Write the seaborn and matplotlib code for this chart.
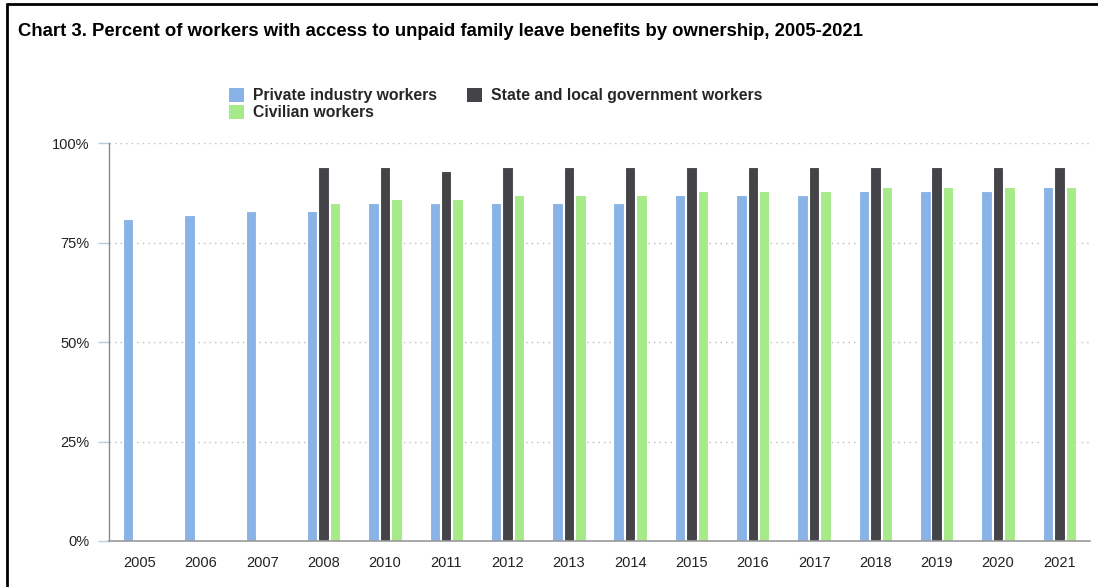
import numpy as np
import pandas as pd
import matplotlib
matplotlib.use("Agg")
import matplotlib.pyplot as plt
from matplotlib.lines import Line2D
import seaborn as sns

years = ["2005", "2006", "2007", "2008", "2010", "2011", "2012", "2013",
         "2014", "2015", "2016", "2017", "2018", "2019", "2020", "2021"]
private = [81, 82, 83, 83, 85, 85, 85, 85, 85, 87, 87, 87, 88, 88, 88, 89]
state_local = [np.nan, np.nan, np.nan, 94, 94, 93, 94, 94, 94, 94, 94, 94, 94, 94, 94, 94]
civilian = [np.nan, np.nan, np.nan, 85, 86, 86, 87, 87, 87, 88, 88, 88, 89, 89, 89, 89]

series_names = ["Private industry workers", "State and local government workers", "Civilian workers"]
colors = ["#89b3e6", "#434348", "#a6ea8a"]

df = pd.DataFrame({
    "year": years * 3,
    "series": np.repeat(series_names, len(years)),
    "value": private + state_local + civilian,
})

sns.set_theme(style="white")
plt.rcParams["font.family"] = ["Liberation Sans", "DejaVu Sans"]

W, H = 1098, 587
fig = plt.figure(figsize=(W / 100, H / 100), dpi=100)
fig.patch.set_facecolor("white")

ax = fig.add_axes([109 / W, 46 / H, (1090 - 109) / W, (541 - 143) / H])
sns.barplot(data=df, x="year", y="value", hue="series", order=years,
            hue_order=series_names, palette=colors, errorbar=None,
            width=0.56, gap=0.08, edgecolor="white", linewidth=0.8,
            saturation=1, ax=ax)

ax.set_ylim(0, 100)
ax.set_xlim(-0.5, len(years) - 0.5)
ax.set_yticks([0, 25, 50, 75, 100])
ax.set_yticklabels(["0%", "25%", "50%", "75%", "100%"])
ax.set_xlabel("")
ax.set_ylabel("")
ax.set_facecolor("white")

for y in [25, 50, 75, 100]:
    ax.axhline(y, color="#bbbbbb", linestyle=(0, (1, 3)), linewidth=1, zorder=0)

for side in ["top", "right"]:
    ax.spines[side].set_visible(False)
ax.spines["left"].set_color("#8a8a8a")
ax.spines["left"].set_linewidth(1)
ax.spines["bottom"].set_color("#999999")
ax.spines["bottom"].set_linewidth(1.2)

ax.tick_params(axis="y", which="major", length=8, width=1, color="#b8cce6",
               pad=6, labelsize=10.5, labelcolor="#222222", left=True)
ax.tick_params(axis="x", which="major", length=0, pad=11, labelsize=10.5,
               labelcolor="#222222")

# Legend: two columns, civilian under private
leg = ax.get_legend()
handles = leg.legend_handles
for h in handles:
    h.set_edgecolor("none")
leg.remove()
order = [0, 2, 1]
fig.legend([handles[i] for i in order], [series_names[i] for i in order],
           loc="upper left", bbox_to_anchor=(229 / W, 1 - 88 / H),
           ncol=2, frameon=False, handlelength=0.95, handleheight=0.95,
           handletextpad=0.6, labelspacing=0.12, columnspacing=1.9,
           borderpad=0, borderaxespad=0,
           prop={"weight": "bold", "size": 11.3})

fig.text(18 / W, 1 - 32 / H,
         "Chart 3. Percent of workers with access to unpaid family leave benefits by ownership, 2005-2021",
         ha="left", va="center", fontsize=13.3, fontweight="bold", color="#000000")

# Outer frame
fig.add_artist(Line2D([7 / W, 7 / W], [0, 1 - 4 / H], color="black", linewidth=2, transform=fig.transFigure))
fig.add_artist(Line2D([7 / W, 1], [1 - 4 / H, 1 - 4 / H], color="black", linewidth=2, transform=fig.transFigure))

fig.savefig("out.png", dpi=100, facecolor="white")
